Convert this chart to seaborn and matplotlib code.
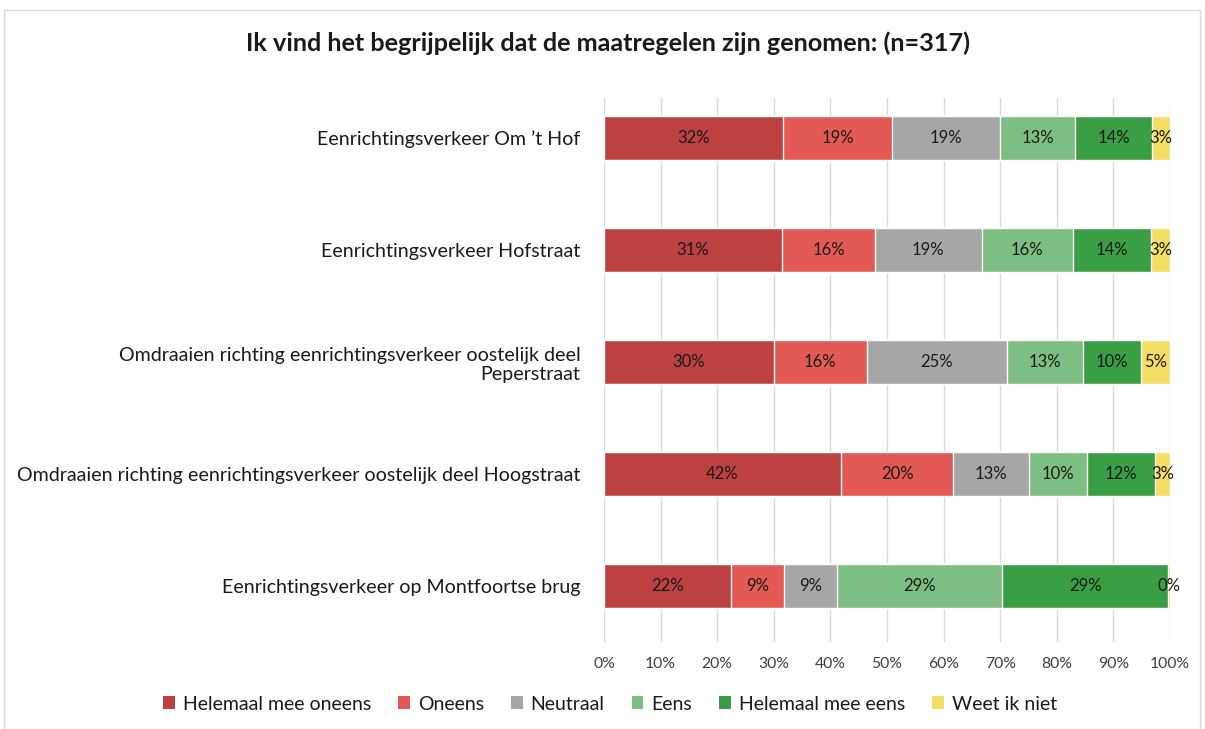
import matplotlib
matplotlib.use("Agg")
import matplotlib.pyplot as plt
import seaborn as sns
import pandas as pd
import numpy as np
from matplotlib.patches import Patch, Rectangle

categories = [
    "Eenrichtingsverkeer Om \u2019t Hof",
    "Eenrichtingsverkeer Hofstraat",
    "Omdraaien richting eenrichtingsverkeer oostelijk deel\nPeperstraat",
    "Omdraaien richting eenrichtingsverkeer oostelijk deel Hoogstraat",
    "Eenrichtingsverkeer op Montfoortse brug",
]
series = ["Helemaal mee oneens", "Oneens", "Neutraal", "Eens", "Helemaal mee eens", "Weet ik niet"]
helemaal_oneens = [31.7, 31.4, 30.0, 41.9, 22.5]
oneens = [19.2, 16.5, 16.4, 19.8, 9.3]
neutraal = [19.1, 18.8, 24.8, 13.4, 9.4]
eens = [13.2, 16.2, 13.4, 10.3, 29.2]
helemaal_eens = [13.7, 13.7, 10.2, 12.0, 29.3]
weet_niet = [3.1, 3.4, 5.2, 2.6, 0.3]
xticks = [0, 10, 20, 30, 40, 50, 60, 70, 80, 90, 100]
colors = ["#BE4141", "#E35A55", "#A6A6A6", "#7DBE82", "#3A9E44", "#F5DE64"]

values = np.array([helemaal_oneens, oneens, neutraal, eens, helemaal_eens, weet_niet])
cum = np.cumsum(values, axis=0)

sns.set_style("white")
plt.rcParams["font.family"] = ["Lato", "DejaVu Sans"]

W, H = 1205, 729
fig = plt.figure(figsize=(W / 100, H / 100), dpi=100)
fig.patches.append(Rectangle((4 / W, 0), 1196 / W, 1 - 10 / H, transform=fig.transFigure,
                             fill=False, edgecolor="#D9D9D9", linewidth=1))
ax_top, ax_bot = 98, 642
ax = fig.add_axes([604 / W, 1 - ax_bot / H, (1170 - 604) / W, (ax_bot - ax_top) / H])

for i in range(len(series) - 1, -1, -1):
    df = pd.DataFrame({"cat": categories, "val": cum[i]})
    sns.barplot(data=df, x="val", y="cat", order=categories, orient="h", color=colors[i],
                width=0.4, saturation=1, ax=ax, zorder=3)

for i in range(len(series)):
    for j in range(len(categories)):
        v = values[i, j]
        ax.text(cum[i, j] - v / 2, j, f"{v:.0f}%", ha="center", va="center",
                fontsize=12, color="#1a1a1a", zorder=5)

unit = 112.0
ax.set_xlim(0, 100)
ax.set_ylim(len(categories) - 0.5, len(categories) - 0.5 - (ax_bot - ax_top) / unit)
ax.set_xticks(xticks)
ax.set_xticklabels([f"{t}%" for t in xticks], fontsize=11.3, color="#404040")
ax.tick_params(axis="x", length=0, pad=11)
ax.tick_params(axis="y", length=0, pad=17, labelsize=14.1, labelcolor="#1a1a1a")
for lbl in ax.get_yticklabels():
    lbl.set_multialignment("right")
ax.grid(axis="x", color="#D9D9D9", linewidth=1, zorder=0)
ax.set_axisbelow(True)
for s in ax.spines.values():
    s.set_visible(False)
ax.set_xlabel("")
ax.set_ylabel("")

fig.text(608 / W, 1 - 43 / H, "Ik vind het begrijpelijk dat de maatregelen zijn genomen: (n=317)",
         ha="center", va="center", fontsize=18.2, fontweight="bold", color="#1a1a1a")

handles = [Patch(facecolor=c, edgecolor="none") for c in colors]
fig.legend(handles, series, loc="center", bbox_to_anchor=(610 / W, 1 - 704 / H), ncol=6,
           frameon=False, fontsize=14, handlelength=0.6, handleheight=0.6,
           handletextpad=0.4, columnspacing=1.4, labelcolor="#1a1a1a")

fig.savefig("out.png", dpi=100)
